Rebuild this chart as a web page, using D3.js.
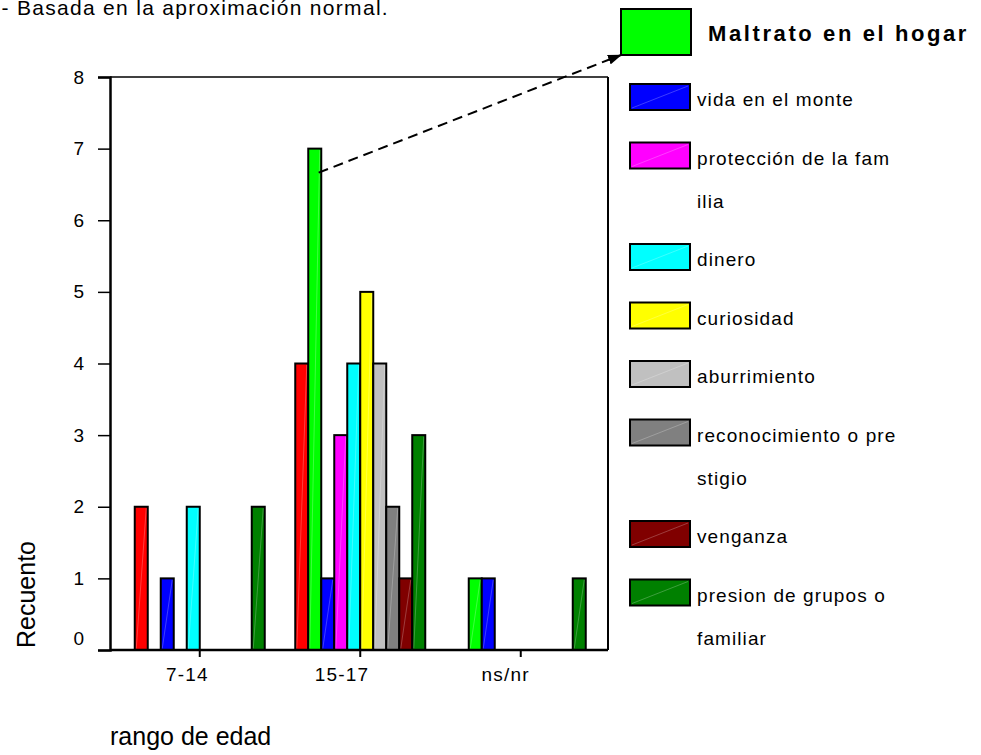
<!DOCTYPE html>
<html>
<head>
<meta charset="utf-8">
<script src="https://cdn.jsdelivr.net/npm/d3@7"></script>
<style>
  body { margin: 0; background: #fff; }
  text { font-family: Arial, "Liberation Sans", sans-serif; fill: #000; }
</style>
</head>
<body>
<svg id="chart" width="981" height="755"></svg>
<script>
// categories (x axis)
var ageGroups = ["7-14", "15-17", "ns/nr"];

// series, in bar order (the first one has no visible legend entry)
var seriesNames = ["(sin leyenda)", "Maltrato en el hogar", "vida en el monte",
  "protección de la familia", "dinero", "curiosidad", "aburrimiento",
  "reconocimiento o prestigio", "venganza", "presion de grupos o familiar"];
var seriesColors = ["#ff0000", "#00ff00", "#0000ff", "#ff00ff", "#00ffff",
  "#ffff00", "#c0c0c0", "#808080", "#800000", "#008000"];

// legend text as it is wrapped in the picture
var legendLines = [null, ["Maltrato en el hogar"], ["vida en el monte"],
  ["protección de la fam", "ilia"], ["dinero"], ["curiosidad"], ["aburrimiento"],
  ["reconocimiento o pre", "stigio"], ["venganza"], ["presion de grupos o", "familiar"]];

// counts per age group, one value per series
var cuenta714 = [2, 0, 1, 0, 2, 0, 0, 0, 0, 2];
var cuenta1517 = [4, 7, 1, 3, 4, 5, 4, 2, 1, 3];
var cuentaNsNr = [0, 1, 1, 0, 0, 0, 0, 0, 0, 1];

var yTicks = [0, 1, 2, 3, 4, 5, 6, 7, 8];

var counts = [cuenta714, cuenta1517, cuentaNsNr];

var svg = d3.select("#chart");

// plot box
var boxLeft = 110, boxRight = 608, boxTop = 77, boxBottom = 650;

var y = d3.scaleLinear().domain([0, 8]).range([boxBottom, boxTop]);
var x = d3.scaleBand().domain(ageGroups).range([119.5, 601]);
var xi = d3.scaleBand().domain(d3.range(seriesNames.length)).range([-65, 65]);

// title line (cut off at the top of the page)
svg.append("text")
  .attr("x", 389).attr("y", 15)
  .attr("text-anchor", "end")
  .style("font-size", "21px")
  .style("letter-spacing", "1.3px")
  .text("- Basada en la aproximación normal.");

// bars
var bars = [];
ageGroups.forEach(function (g, gi) {
  counts[gi].forEach(function (v, si) {
    if (v > 0) bars.push({ group: g, series: si, value: v });
  });
});

var barG = svg.append("g");
barG.selectAll("rect")
  .data(bars)
  .join("rect")
  .attr("x", d => x(d.group) + x.bandwidth() / 2 + xi(d.series))
  .attr("y", d => y(d.value))
  .attr("width", xi.bandwidth())
  .attr("height", d => y(0) - y(d.value))
  .attr("fill", d => seriesColors[d.series])
  .attr("stroke", "#000")
  .attr("stroke-width", 2);

// faint diagonal seen in every filled block
barG.selectAll("line")
  .data(bars)
  .join("line")
  .attr("x1", d => x(d.group) + x.bandwidth() / 2 + xi(d.series) + 1.5)
  .attr("y1", y(0) - 1.5)
  .attr("x2", d => x(d.group) + x.bandwidth() / 2 + xi(d.series) + xi.bandwidth() - 1.5)
  .attr("y2", d => y(d.value) + 1.5)
  .attr("stroke", "#fff")
  .attr("stroke-opacity", 0.3)
  .attr("stroke-width", 0.8);

// frame
svg.append("line").attr("x1", boxLeft).attr("x2", boxRight).attr("y1", boxTop).attr("y2", boxTop)
  .attr("stroke", "#000").attr("stroke-width", 1.5);
svg.append("line").attr("x1", boxRight).attr("x2", boxRight).attr("y1", boxTop).attr("y2", boxBottom)
  .attr("stroke", "#000").attr("stroke-width", 2);

// y axis
var yAxis = svg.append("g")
  .attr("transform", "translate(" + boxLeft + ",0)")
  .call(d3.axisLeft(y).tickValues(yTicks).tickFormat(d3.format("d"))
    .tickSize(12).tickPadding(14));
yAxis.select(".domain").attr("stroke-width", 2.5);
yAxis.selectAll(".tick line").attr("stroke-width", 1.5);
yAxis.selectAll("text")
  .style("font-size", "19px")
  .style("font-family", "Arial, 'Liberation Sans', sans-serif")
  .attr("dy", d => d === 0 ? "-0.3em" : "0.32em");

// x axis
var xAxis = svg.append("g")
  .attr("transform", "translate(0," + boxBottom + ")")
  .call(d3.axisBottom(x).tickSize(7).tickPadding(11));
xAxis.select(".domain").attr("stroke-width", 2.5).attr("d", "M" + boxLeft + ",0H" + boxRight);
xAxis.selectAll(".tick line").attr("stroke-width", 2);
xAxis.selectAll("text")
  .style("font-size", "19px")
  .style("font-family", "Arial, 'Liberation Sans', sans-serif")
  .style("letter-spacing", "1.2px")
  .attr("text-anchor", "end")
  .attr("x", 9);

// axis titles
svg.append("text")
  .attr("transform", "translate(35,648) rotate(-90)")
  .style("font-size", "25px")
  .text("Recuento");

svg.append("text")
  .attr("x", 110).attr("y", 745)
  .style("font-size", "25px")
  .text("rango de edad");

// big legend entry
svg.append("rect")
  .attr("x", 621).attr("y", 9).attr("width", 70).attr("height", 46)
  .attr("fill", seriesColors[1]).attr("stroke", "#000").attr("stroke-width", 2);
svg.append("text")
  .attr("x", 708).attr("y", 41)
  .style("font-size", "22px").style("font-weight", "bold")
  .style("letter-spacing", "2.6px")
  .text(legendLines[1][0]);

// small legend entries
var legendItems = [];
var ly = 84;
for (var i = 2; i < seriesNames.length; i++) {
  legendItems.push({ series: i, y: ly, lines: legendLines[i] });
  ly += 58.5 + 43 * (legendLines[i].length - 1);
}

var leg = svg.append("g").selectAll("g")
  .data(legendItems)
  .join("g")
  .attr("transform", d => "translate(630," + d.y + ")");

leg.append("rect")
  .attr("width", 60).attr("height", 26)
  .attr("fill", d => seriesColors[d.series])
  .attr("stroke", "#000").attr("stroke-width", 2);
leg.append("line")
  .attr("x1", 2).attr("y1", 24).attr("x2", 58).attr("y2", 2)
  .attr("stroke", "#fff").attr("stroke-opacity", 0.3).attr("stroke-width", 0.8);
leg.each(function (d) {
  var g = d3.select(this);
  d.lines.forEach(function (t, k) {
    g.append("text")
      .attr("x", 67).attr("y", 22 + 43 * k)
      .style("font-size", "19px")
      .style("letter-spacing", "1.1px")
      .text(t);
  });
});

// dashed arrow from the 15-17 "Maltrato" bar to its legend box
svg.append("defs").append("marker")
  .attr("id", "arrow")
  .attr("markerUnits", "userSpaceOnUse")
  .attr("markerWidth", 14).attr("markerHeight", 10)
  .attr("refX", 13).attr("refY", 5)
  .attr("orient", "auto")
  .append("path")
  .attr("d", "M0,0L14,5L0,10Z")
  .attr("fill", "#000");

var ax0 = x("15-17") + x.bandwidth() / 2 + xi(1) + xi.bandwidth() * 0.8;
var ay0 = y(cuenta1517[1]) + 24;
svg.append("line")
  .attr("x1", ax0).attr("y1", ay0)
  .attr("x2", 621).attr("y2", 55)
  .attr("stroke", "#000").attr("stroke-width", 2)
  .attr("stroke-dasharray", "10,6")
  .attr("marker-end", "url(#arrow)");
</script>
</body>
</html>
